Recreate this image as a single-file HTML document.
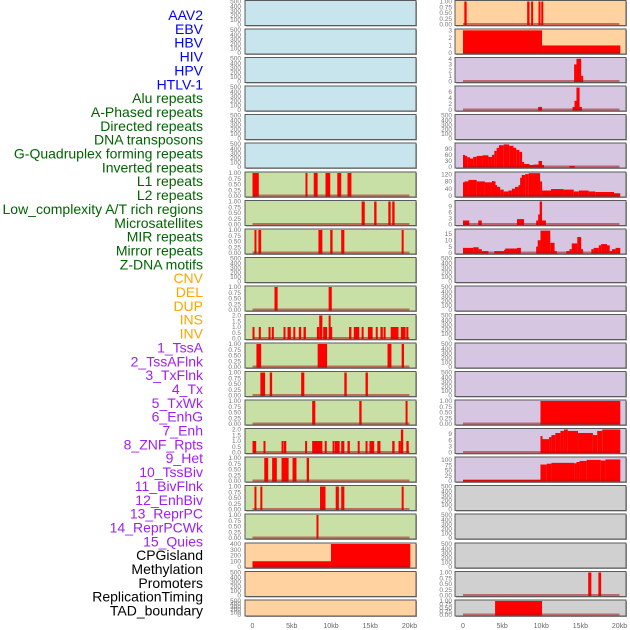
<!DOCTYPE html>
<html><head><meta charset="utf-8"><style>
html,body{margin:0;padding:0;background:#fff;}
svg{display:block;font-family:"Liberation Sans",sans-serif;}
</style></head><body>
<svg id="c" width="630" height="630" xmlns="http://www.w3.org/2000/svg"></svg>
<script>
const labels=["AAV2","EBV","HBV","HIV","HPV","HTLV-1","Alu repeats","A-Phased repeats","Directed repeats","DNA transposons","G-Quadruplex forming repeats","Inverted repeats","L1 repeats","L2 repeats","Low_complexity A/T rich regions","Microsatellites","MIR repeats","Mirror repeats","Z-DNA motifs","CNV","DEL","DUP","INS","INV","1_TssA","2_TssAFlnk","3_TxFlnk","4_Tx","5_TxWk","6_EnhG","7_Enh","8_ZNF_Rpts","9_Het","10_TssBiv","11_BivFlnk","12_EnhBiv","13_ReprPC","14_ReprPCWk","15_Quies","CPGisland","Methylation","Promoters","ReplicationTiming","TAD_boundary"];
const labelGroups=[6,13,5,15,5];
const groupColors=["#0000ff","#006400","#ffa500","#a020f0","#000000"];
const xTicks=[0,5,10,15,20];
const xTickLabels=["0","5kb","10kb","15kb","20kb"];
const T500=[0,100,200,300,400,500],T1=[0,0.25,0.5,0.75,1],T2=[0,0.5,1,1.5,2];

// left column segments [startKb,endKb,value]
const leftL1=[[0,0.8,1],[6.75,7.0,1],[7.8,8.3,1],[9.3,9.9,1],[10.8,11.3,1],[12.1,12.6,1]];
const leftL2=[[13.9,14.3,1],[15.5,15.8,1],[17.3,17.6,1],[17.8,18.1,1]];
const leftLowAT=[[0.25,0.5,1],[0.75,1.1,1],[8.4,8.9,1],[9.9,10.2,1],[11.3,11.7,1],[19,19.2,1]];
const leftCNV=[[2.8,3.2,1],[9.7,10.1,1]];
const leftDEL=[[0,0.2,1],[0.8,1.06,1],[2.04,2.3,1],[2.46,2.68,1],[3.95,4.16,1],[4.46,4.88,1],[5.2,5.4,1],[5.9,6.2,1],[6.5,6.8,1],[8.2,8.5,1],[8.5,8.9,2],[9.0,9.5,1],[9.7,9.9,2],[9.9,10.1,1],[12.3,12.6,1],[12.9,13.6,1],[13.9,14.1,1],[14.7,15.3,1],[15.7,15.9,1],[16.3,16.6,1],[16.7,16.9,1],[17.6,18.6,1],[18.9,19.5,1],[19.6,19.8,1]];
const leftRow13=[[0.5,1.1,1],[8.3,9.5,1],[17.2,17.7,1],[19.0,19.3,1]];
const leftRow14=[[1.0,1.6,1],[2.2,2.5,1],[6.2,6.6,1],[11.7,12.0,1],[14.4,14.7,1]];
const leftRow15=[[7.6,8.0,1],[13.6,13.9,1],[19.5,19.7,1]];
const leftRow16=[[0,0.47,1],[1.4,1.6,1],[3.7,3.9,1],[4.0,4.3,1],[6.7,6.9,1],[7.6,8.9,1],[9.2,9.4,1],[10.2,10.4,1],[10.5,11.1,1],[11.3,11.7,1],[12.1,12.4,1],[13.4,13.6,1],[14.4,14.6,1],[14.9,15.5,1],[15.9,16.3,1],[17.8,18.1,1],[18.6,18.9,1],[18.9,19.2,2],[19.6,19.9,1]];
const leftRow17=[[1.5,2.0,1],[2.5,3.1,1],[3.7,4.6,1],[5.1,5.6,1],[6.9,7.2,1]];
const leftRow18=[[0.25,0.47,1],[1.0,1.2,1],[8.6,9.3,1],[10.6,11.0,1],[11.3,11.7,1],[19.0,19.2,1]];
const leftRow19=[[8.15,8.4,1]];
const leftCpG=[[0,10,100],[10,20.1,400]];

// right column
const rightR1=[[0.17,0.47,1],[8.2,8.5,1],[8.7,8.9,1],[9.65,9.9,1],[10,10.25,1]];
const rightR2=[[0,10.1,3],[10.1,20.1,1]];
const rightR3=[[14.2,14.5,3],[14.5,15.1,4],[15.1,15.3,1]];
const rightR4=[[9.6,10.1,1],[14.0,14.25,1],[14.25,14.5,3],[14.5,14.9,7.3],[14.9,15.2,1]];
const rightGQuad=[[0,0.2,60],[0.2,0.55,55],[0.55,0.9,48],[0.9,1.3,42],[1.3,1.75,50],[1.75,2.5,55],[2.5,3.25,58],[3.25,3.7,50],[3.7,4.0,60],[4.0,4.3,80],[4.3,4.6,95],[4.6,5.2,108],[5.2,5.9,112],[5.9,6.45,105],[6.45,6.8,95],[6.8,7.2,85],[7.2,7.55,75],[7.55,7.8,25],[7.8,8.5,15],[8.5,9.0,10],[9.0,9.65,12],[9.65,10.1,30],[10.1,10.3,10],[13.6,14.3,5]];
const rightInverted=[[0,0.2,75],[0.2,0.7,80],[0.7,1.75,88],[1.75,2.8,80],[2.8,3.7,75],[3.7,3.9,82],[3.9,4.1,80],[4.1,4.3,60],[4.3,4.75,50],[4.75,5.2,35],[5.2,5.8,25],[5.8,6.25,30],[6.25,6.65,40],[6.65,7.1,50],[7.1,7.3,60],[7.3,7.5,100],[7.5,7.95,115],[7.95,8.4,120],[8.4,9.85,125],[9.85,10.1,80],[10.1,11.25,30],[11.25,12.85,38],[12.85,14.15,35],[14.15,14.8,25],[14.8,16.05,30],[16.05,16.9,25],[16.9,19.3,22],[19.3,20.1,15]];
const rightL1=[[0,0.8,2],[1.95,2.4,2],[6.9,7.8,2.7],[9.35,9.6,2],[9.6,9.8,5],[9.8,10.1,11.5],[10.1,10.6,2]];
const rightL2=[[0,1.3,4],[1.3,2.0,4.5],[2.0,2.4,3],[2.4,3.25,1.5],[4.0,5.25,1.5],[5.25,5.4,2.5],[5.4,6.9,3.5],[6.9,7.4,4],[9.35,9.55,5],[9.55,9.9,10],[9.9,11.15,17.5],[11.15,11.7,8],[11.7,12.0,1.5],[13.2,13.6,1.5],[13.6,13.9,3],[13.9,14.6,7.5],[14.6,15.1,12.5],[15.1,15.35,3],[16.4,16.7,3],[16.7,17.35,4],[17.35,17.65,6],[17.65,18.4,7],[18.4,18.75,6],[18.75,19.05,1.5],[19.05,19.5,3],[19.5,20.1,4]];
const rightR15=[[9.9,20.1,1]];
const rightR16=[[9.9,10.1,8],[10.1,11.0,6.5],[11.0,11.3,7.5],[11.3,11.8,8.5],[11.8,12.45,9.5],[12.45,12.9,10.5],[12.9,13.4,11.2],[13.4,14.7,10.5],[14.7,16.6,9.5],[16.6,17.15,8.5],[17.15,17.8,10.5],[17.8,20.1,11.2]];
const rightR17=[[0,9.9,5],[9.9,10.7,78],[10.7,11.3,82],[11.3,14.2,86],[14.2,14.5,84],[14.5,14.9,90],[14.9,15.8,95],[15.8,17.6,100],[17.6,18.2,97],[18.2,20.1,102]];
const rightR21=[[16.0,16.4,1],[17.3,17.65,1]];
const rightR22=[[4.1,10.1,1]];

const BLUE="#c8e4ec",GREEN="#c8e0a5",PEACH="#ffd2a0",PURP="#d6c6e2",GRAY="#d0d0d0";
const tops=[0.5,29,57.5,86,114.5,143,172,200.5,229,257.5,286,314.5,343,371.5,400,428.5,457,485.5,514,543,571.5,600];
const leftPanels=[
 [BLUE,T500,500,null],[BLUE,T500,500,null],[BLUE,T500,500,null],[BLUE,T500,500,null],[BLUE,T500,500,null],[BLUE,T500,500,null],
 [GREEN,T1,1,leftL1],[GREEN,T1,1,leftL2],[GREEN,T1,1,leftLowAT],[GREEN,T500,500,null],[GREEN,T1,1,leftCNV],[GREEN,T2,2,leftDEL],
 [GREEN,T1,1,leftRow13],[GREEN,T1,1,leftRow14],[GREEN,T1,1,leftRow15],[GREEN,T2,2,leftRow16],[GREEN,T1,1,leftRow17],[GREEN,T1,1,leftRow18],[GREEN,T1,1,leftRow19],
 [PEACH,[0,100,200,300,400],400,leftCpG],[PEACH,T500,500,null],[PEACH,T500,500,null]];
const rightPanels=[
 [PEACH,T1,1,rightR1],[PEACH,[0,1,2,3],3.05,rightR2],[PURP,[0,1,2,3,4],4.05,rightR3],[PURP,[0,2,4,6],7.5,rightR4],[PURP,T500,500,null],
 [PURP,[0,30,60,90],114,rightGQuad],[PURP,[0,40,80,120],126,rightInverted],[PURP,[0,3,6,9],11.5,rightL1],[PURP,[0,5,10,15],18,rightL2],
 [PURP,T500,500,null],[PURP,T500,500,null],[PURP,T500,500,null],[PURP,T500,500,null],[PURP,T500,500,null],
 [PURP,T1,1,rightR15],[PURP,[0,3,6,9],11.2,rightR16],[PURP,[0,25,50,75,100],109,rightR17],
 [GRAY,T500,500,null],[GRAY,T500,500,null],[GRAY,T500,500,null],[GRAY,T1,1,rightR21],[GRAY,T1,1,rightR22]];

const NS="http://www.w3.org/2000/svg";
const svg=document.getElementById('c');
function mk(tag,attrs,parent){const e=document.createElementNS(NS,tag);for(const k in attrs)e.setAttribute(k,attrs[k]);(parent||svg).appendChild(e);return e;}

// labels
let li=0;
labelGroups.forEach((n,g)=>{for(let i=0;i<n;i++){const y=15+li*13.85+5;
 const t=mk('text',{x:203,y:y,'text-anchor':'end','font-size':14,fill:groupColors[g]});
 
 
 t.textContent=labels[li];li++;}});

function fmt(v,ticks){if(ticks===T1)return v.toFixed(2);if(ticks===T2)return v.toFixed(1);return String(v);}
function drawColumn(panels,x0,x1,kb0,kb20,tickX,col){
 const xs=kb=>kb0+(kb20-kb0)*kb/20;
 panels.forEach((p,i)=>{
  const T=tops[i],H=(i===tops.length-1)?16:25;
  const yTop=T+1,yBot=T+H-1;
  const ys=v=>yBot-(yBot-yTop)*v/p[2];
  const g=mk('g',{});
  
  
  mk('rect',{x:x0+1,y:T+1,width:x1-x0,height:H,fill:'#999'},g);
  mk('rect',{x:x0,y:T,width:x1-x0,height:H,fill:p[0],stroke:'#5a5a5a','stroke-width':1},g);
  p[1].forEach(tv=>{const t=mk('text',{x:tickX,y:ys(tv)+2.2,'text-anchor':'end','font-size':6.5,fill:'#777'},g);
   
   
   t.textContent=fmt(tv,p[1]);});
  if(p[3]){
   p[3].forEach(s=>{const xa=xs(s[0]),xb=xs(s[1]);const w=Math.max(2,xb-xa);
    const r=mk('rect',{x:xa,y:ys(s[2]),width:w,height:yBot-ys(s[2])+0.5,fill:'#ff0000'},g);
    
    });
   const bl=mk('rect',{x:xs(0),y:yBot-1.5,width:xs(20)-xs(0),height:2,fill:'rgba(170,20,20,0.55)'},g);
   
   
  }
 });
 xTicks.forEach((k,i)=>{const t=mk('text',{x:xs(k),y:628,'text-anchor':'middle','font-size':7,fill:'#666'});
  
  
  t.textContent=xTickLabels[i];});
}
drawColumn(leftPanels,245,416,252.5,409.5,241,'left');
drawColumn(rightPanels,455,626,463,619.5,452,'right');
</script>
</body></html>
